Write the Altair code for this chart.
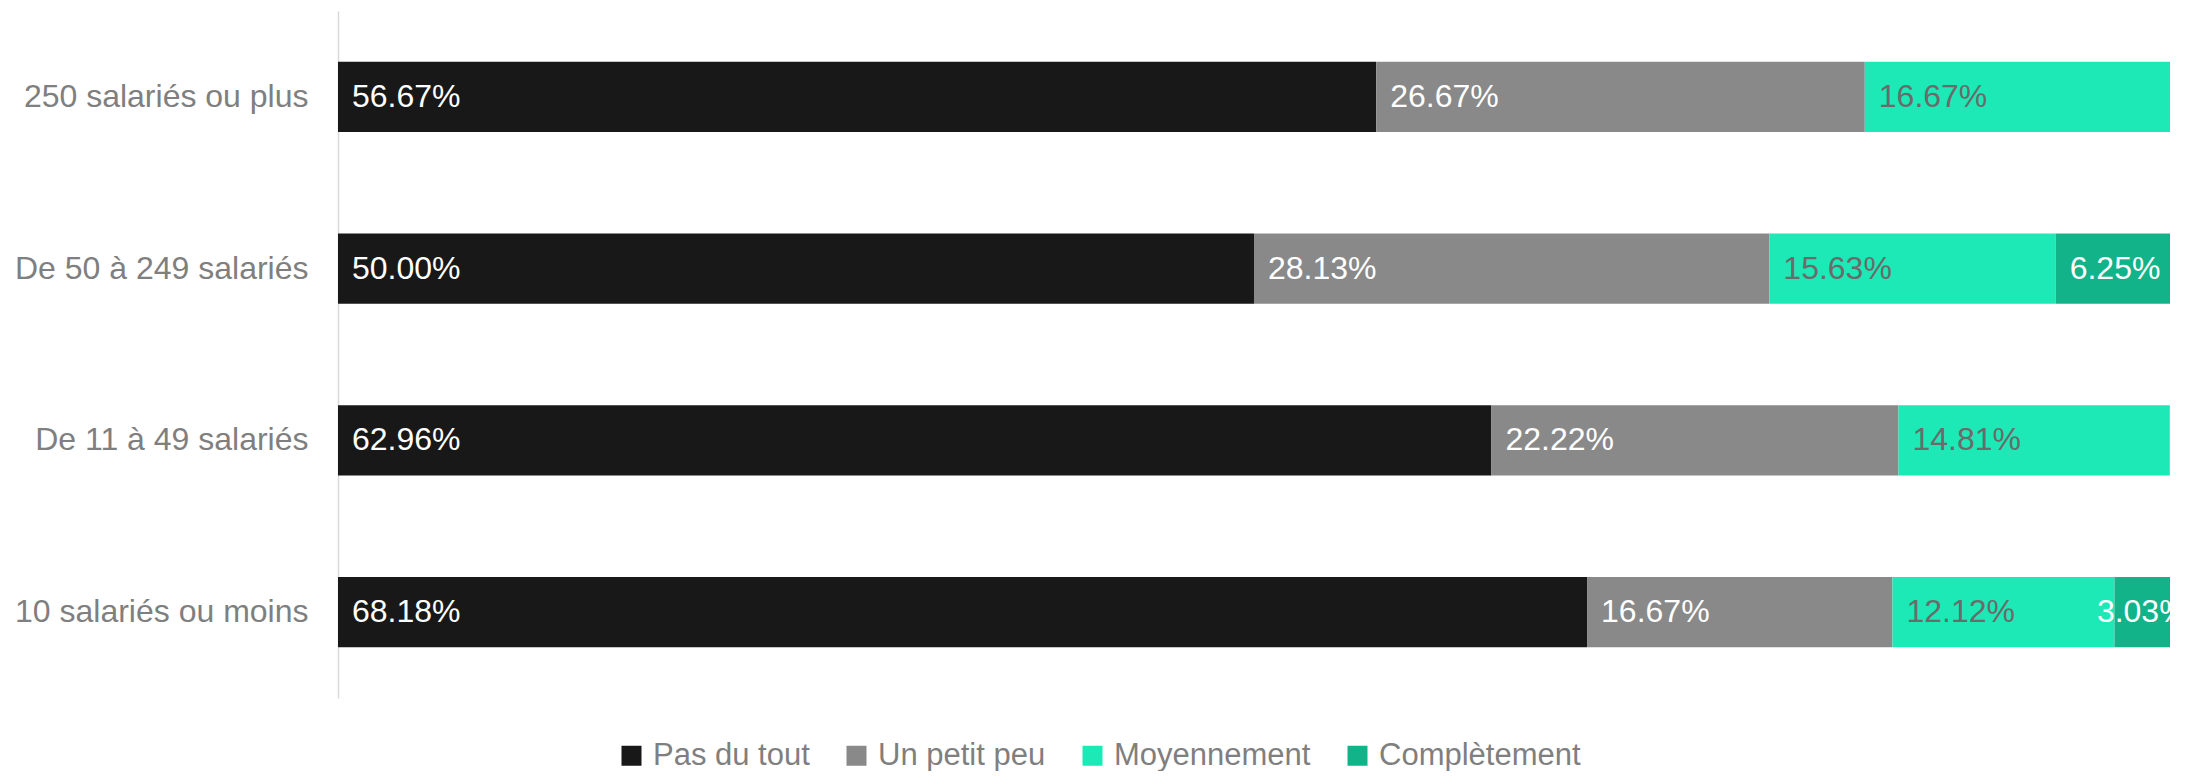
import altair as alt
import pandas as pd

categories = ["250 salariés ou plus", "De 50 à 249 salariés", "De 11 à 49 salariés", "10 salariés ou moins"]
series = ["Pas du tout", "Un petit peu", "Moyennement", "Complètement"]
pas_du_tout = [56.67, 50.00, 62.96, 68.18]
un_petit_peu = [26.67, 28.13, 22.22, 16.67]
moyennement = [16.67, 15.63, 14.81, 12.12]
completement = [0.0, 6.25, 0.0, 3.03]
colors = ["#181818", "#898989", "#1de9b6", "#12b389"]

rows = []
for i, c in enumerate(categories):
    for j, (s, vals) in enumerate(zip(series, [pas_du_tout, un_petit_peu, moyennement, completement])):
        if vals[i] > 0:
            rows.append({"cat": c, "serie": s, "idx": j, "value": vals[i],
                         "label": f"{vals[i]:.2f}%"})
df = pd.DataFrame(rows)

FS = 32

base = alt.Chart(df).transform_stack(
    stack="value", groupby=["cat"], sort=[alt.SortField("idx")], as_=["x0", "x1"]
).transform_calculate(mid="(datum.x0 + datum.x1) / 2")

xscale = alt.Scale(domain=[0, 100], clamp=True, nice=False, zero=True)
yenc = alt.Y("cat:N", sort=categories, title=None,
             scale=alt.Scale(paddingInner=0.59, paddingOuter=0.295),
             axis=alt.Axis(labelFontSize=FS, labelColor="#7f7f7f", labelFont="Liberation Sans",
                           labelPadding=30, ticks=False, domainColor="#d9d9d9", domainWidth=1.5,
                           labelLimit=600))

bars = base.mark_bar(clip=True).encode(
    x=alt.X("x0:Q", scale=xscale, axis=None),
    x2="x1:Q",
    y=yenc,
    color=alt.Color("serie:N", sort=series,
                    scale=alt.Scale(domain=series, range=colors),
                    legend=alt.Legend(title=None, orient="none", direction="horizontal",
                                      legendX=278, legendY=729,
                                      symbolType="square", symbolSize=400, symbolStrokeWidth=0,
                                      labelFontSize=31, labelColor="#7f7f7f",
                                      labelFont="Liberation Sans", labelLimit=600,
                                      labelOffset=6, columnPadding=31, padding=0)),
)

color_cond = alt.condition(alt.datum.serie == "Moyennement", alt.value("#6b6b6b"), alt.value("#ffffff"))

labels_left = base.transform_filter("datum.value >= 5").mark_text(
    align="left", baseline="middle", dx=14, fontSize=FS, font="Liberation Sans", clip=True
).encode(x=alt.X("x0:Q", scale=xscale), y=alt.Y("cat:N", sort=categories), text="label:N", color=color_cond)

labels_mid = base.transform_filter("datum.value < 5").mark_text(
    align="center", baseline="middle", fontSize=FS, font="Liberation Sans", clip=True
).encode(x=alt.X("mid:Q", scale=xscale), y=alt.Y("cat:N", sort=categories), text="label:N", color=color_cond)

chart = alt.layer(bars, labels_left, labels_mid).properties(
    width=1832, height=687,
    padding={"left": 6, "top": 3, "right": 5, "bottom": 0},
).configure_view(stroke=None)

chart.save("out.html", embed_options={"renderer": "svg", "actions": False})
